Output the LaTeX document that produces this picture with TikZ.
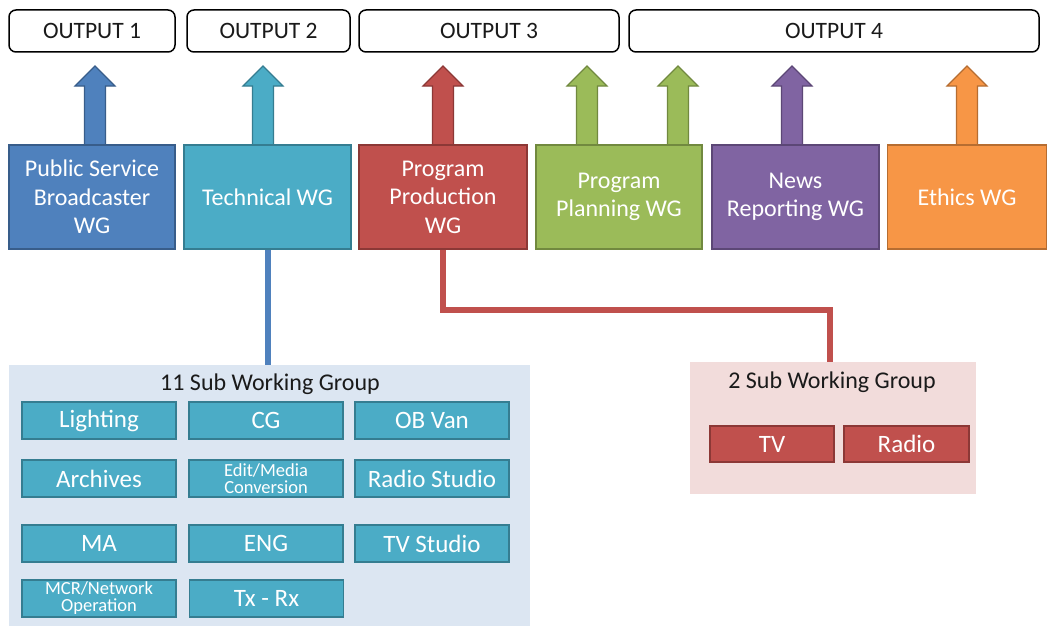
\documentclass[tikz,border=0pt]{standalone}
\usepackage{fontspec}
\setmainfont{Carlito}
\usetikzlibrary{calc}
\definecolor{cblue}{HTML}{4F81BD}\definecolor{cblued}{HTML}{385D8A}
\definecolor{cteal}{HTML}{4BACC6}\definecolor{cteald}{HTML}{357D91}
\definecolor{cred}{HTML}{C0504D}\definecolor{credd}{HTML}{8C3836}
\definecolor{cgreen}{HTML}{9BBB59}\definecolor{cgreend}{HTML}{71893F}
\definecolor{cpurple}{HTML}{8064A2}\definecolor{cpurpled}{HTML}{5C4776}
\definecolor{corange}{HTML}{F79646}\definecolor{coranged}{HTML}{B66D31}
\definecolor{csubblue}{HTML}{DCE6F2}\definecolor{csubpink}{HTML}{F2DCDB}
\definecolor{ctext}{HTML}{1A1A1A}
\tikzset{
  outbox/.style={draw=black, line width=1.5, rounded corners=7, fill=white, minimum height=42, inner sep=0, text=ctext, font=\fontsize{23.5}{27}\selectfont},
  wgbox/.style={minimum height=104, inner sep=0, line width=1.8, text=white, align=center, font=\fontsize{24}{28.5}\selectfont},
  subbox/.style={fill=cteal, draw=cteald, line width=1.5, minimum width=154, minimum height=37, inner sep=0, text=white, align=center, font=\fontsize{25}{27}\selectfont},
  smalltext/.style={font=\fontsize{18.5}{17}\selectfont},
  redbox/.style={fill=cred, draw=credd, line width=1.5, minimum height=36, inner sep=0, text=white, font=\fontsize{25}{27}\selectfont},
  grouptitle/.style={text=ctext, inner sep=0, font=\fontsize{24}{27}\selectfont},
  wgarrow/.style={line width=1.2, line join=miter},
  conn/.style={line width=6, line join=miter},
}
\newcommand\upwgarrow[3]{%
  \filldraw[wgarrow, fill=#2, draw=#3] (#1-10.5,146) -- (#1-10.5,86) -- (#1-20,86) -- (#1,66) -- (#1+20,86) -- (#1+10.5,86) -- (#1+10.5,146) -- cycle;}
\begin{document}
\begin{tikzpicture}[x=1pt,y=-1pt]
\useasboundingbox[fill=white] (0,0) rectangle (1048,626);

% outputs
\node[outbox, minimum width=166] (out1) at (92,31) {OUTPUT 1};
\node[outbox, minimum width=163] (out2) at (268.5,31) {OUTPUT 2};
\node[outbox, minimum width=260] (out3) at (489,31) {OUTPUT 3};
\node[outbox, minimum width=410] (out4) at (834,31) {OUTPUT 4};

% arrows
\upwgarrow{95}{cblue}{cblued}
\upwgarrow{263}{cteal}{cteald}
\upwgarrow{443}{cred}{credd}
\upwgarrow{587}{cgreen}{cgreend}
\upwgarrow{678}{cgreen}{cgreend}
\upwgarrow{792}{cpurple}{cpurpled}
\upwgarrow{967}{corange}{coranged}

% sub group backgrounds
\node[fill=csubblue, minimum width=521, minimum height=261, inner sep=0, anchor=north west] (sub1) at (9,365) {};
\node[fill=csubpink, minimum width=286, minimum height=132, inner sep=0, anchor=north west] (sub2) at (690,362) {};

% WG boxes
\node[wgbox, fill=cblue, draw=cblued, minimum width=166] (psb) at (92,197) {Public Service\\Broadcaster\\WG};
\node[wgbox, fill=cteal, draw=cteald, minimum width=167] (tech) at (267.5,197) {Technical WG};
\node[wgbox, fill=cred, draw=credd, minimum width=168] (ppw) at (443,197) {Program\\Production\\WG};
\node[wgbox, fill=cgreen, draw=cgreend, minimum width=166] (plan) at (619,197) {Program\\Planning WG};
\node[wgbox, fill=cpurple, draw=cpurpled, minimum width=167] (news) at (795.5,197) {News\\Reporting WG};
\node[wgbox, fill=corange, draw=coranged, minimum width=159] (eth) at (967,197) {Ethics WG};

% connectors
\coordinate (tl) at (268,0);
\draw[conn, draw=cblue] (tech.south -| tl) -- (sub1.north -| tl);
\coordinate (rb) at (830,310);
\draw[conn, draw=cred] (ppw.south) |- (rb) -- (sub2.north -| rb);

% 11 sub working group
\node[grouptitle] (t1) at (270,384) {11 Sub Working Group};
\node[subbox] (light) at (99,420.5) {Lighting};
\node[subbox] (cg) at (266,420.5) {CG};
\node[subbox] (ob) at (432,420.5) {OB Van};
\node[subbox] (arch) at (99,478.5) {Archives};
\node[subbox, smalltext] (edit) at (266,478.5) {Edit/Media\\Conversion};
\node[subbox] (radio) at (432,478.5) {Radio Studio};
\node[subbox] (ma) at (99,543.5) {MA};
\node[subbox] (eng) at (266,543.5) {ENG};
\node[subbox] (tvs) at (432,543.5) {TV Studio};
\node[subbox, smalltext] (mcr) at (99,598.5) {MCR/Network\\Operation};
\node[subbox] (txrx) at (266.5,598.5) {Tx - Rx};

% 2 sub working group
\node[grouptitle] (t2) at (832,382) {2 Sub Working Group};
\node[redbox, minimum width=124] (tv) at (772,444) {TV};
\node[redbox, minimum width=125] (rad) at (906.5,444) {Radio};
\end{tikzpicture}
\end{document}
